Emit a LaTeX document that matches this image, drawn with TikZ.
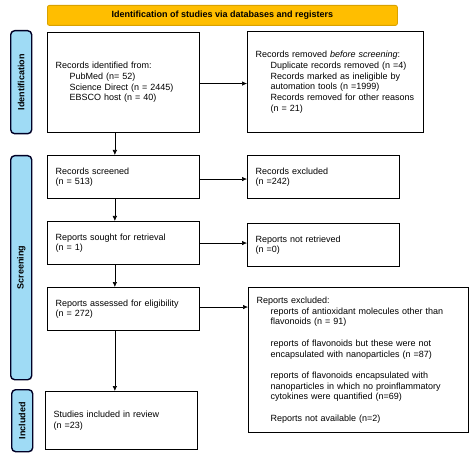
\documentclass[tikz,border=0pt]{standalone}
\usepackage{fontspec}
\setmainfont{Liberation Sans}
\usetikzlibrary{arrows.meta}
\begin{document}
\begin{tikzpicture}[x=1pt,y=-1pt,
  box/.style={draw=black, line width=1.1pt, fill=white, inner xsep=8pt, inner ysep=2pt,
    align=left, font=\fontsize{9}{10.7}\selectfont, anchor=north west},
  side/.style={draw=black!85!blue, line width=1.4pt, fill=sideblue, rounded corners=4pt,
    anchor=north west, inner sep=0pt},
  sidetext/.style={rotate=90, font=\fontsize{9}{10}\selectfont\bfseries},
  arr/.style={-{Latex[length=5pt,width=4.5pt]}, line width=0.6pt}
]
\definecolor{sideblue}{HTML}{9FDBF5}
\definecolor{bannerfill}{HTML}{FFBE00}
\definecolor{bannerdraw}{HTML}{D9A200}
\useasboundingbox (0,0) rectangle (474,457);
\fill[white] (0,0) rectangle (474,457);

% banner
\node[draw=bannerdraw, line width=0.8pt, fill=bannerfill, rounded corners=2pt, anchor=north west,
  minimum width=350pt, minimum height=20pt, inner sep=0pt,
  font=\fontsize{9}{10}\selectfont\bfseries] (banner) at (47,5)
  {Identification of studies via databases and registers};

% side labels
\node[side, minimum width=21pt, minimum height=103pt] (sid) at (10,30) {};
\node[sidetext] (sidt) at (sid.center) {Identification};
\node[side, minimum width=21pt, minimum height=224pt] (sscr) at (10,155) {};
\node[sidetext] (sscrt) at (sscr.center) {Screening};
\node[side, minimum width=21pt, minimum height=62pt] (sinc) at (11,389) {};
\node[sidetext] (sinct) at (sinc.center) {Included};

% boxes
\node[box, text width=136pt, minimum height=100pt] (b1) at (47,32)
  {Records identified from:\\
   \hspace*{14pt}PubMed (n= 52)\\
   \hspace*{14pt}Science Direct (n = 2445)\\
   \hspace*{14pt}EBSCO host (n = 40)};
\node[box, text width=160pt, minimum height=101pt] (b2) at (247,31)
  {Records removed \textit{before screening}:\\
   \hspace*{15pt}Duplicate records removed (n =4)\\
   \hspace*{15pt}Records marked as ineligible by\\
   \hspace*{15pt}automation tools (n =1999)\\
   \hspace*{15pt}Records removed for other reasons\\
   \hspace*{15pt}(n = 21)};
\node[box, text width=136pt, minimum height=43pt] (b3) at (47,155)
  {Records screened\\(n = 513)};
\node[box, text width=136pt, minimum height=43pt] (b4) at (247,155)
  {Records excluded\\(n =242)};
\node[box, text width=136pt, minimum height=43pt] (b5) at (47,221)
  {Reports sought for retrieval\\(n = 1)};
\node[box, text width=136pt, minimum height=43pt] (b6) at (247,223)
  {Reports not retrieved\\(n =0)};
\node[box, text width=136pt, minimum height=43pt] (b7) at (47,287)
  {Reports assessed for eligibility\\(n = 272)};
\node[box, text width=204pt, minimum height=145pt] (b8) at (248,287)
  {Reports excluded:\\
   \hspace*{14pt}reports of antioxidant molecules other than\\
   \hspace*{14pt}flavonoids (n = 91)\\[10.7pt]
   \hspace*{14pt}reports of flavonoids but these were not\\
   \hspace*{14pt}encapsulated with nanoparticles (n =87)\\[10.7pt]
   \hspace*{14pt}reports of flavonoids encapsulated with\\
   \hspace*{14pt}nanoparticles in which no proinflammatory\\
   \hspace*{14pt}cytokines were quantified (n=69)\\[10.7pt]
   \hspace*{14pt}Reports not available (n=2)\\[6pt]};
\node[box, text width=136pt, minimum height=58pt] (b9) at (45,391)
  {Studies included in review\\(n =23)};

% connectors
\coordinate (d1) at ([xshift=-8.7pt]b1.south);
\coordinate (d3) at ([xshift=-8.7pt]b3.south);
\coordinate (d5) at ([xshift=-8.7pt]b5.south);
\coordinate (d7) at ([xshift=-8.7pt]b7.south);
\draw[arr] (d1) -- (d1 |- b3.north);
\draw[arr] (d3) -- (d3 |- b5.north);
\draw[arr] (d5) -- (d5 |- b7.north);
\draw[arr] (d7) -- (d7 |- b9.north);
\draw[arr] ([yshift=-1pt]b1.east) -- ([yshift=-1pt]b1.east -| b2.west);
\draw[arr] ([yshift=-2pt]b3.east) -- ([yshift=-2pt]b3.east -| b4.west);
\draw[arr] (b5.east) -- (b5.east -| b6.west);
\draw[arr] ([yshift=2pt]b7.east) -- ([yshift=2pt]b7.east -| b8.west);
\end{tikzpicture}
\end{document}
